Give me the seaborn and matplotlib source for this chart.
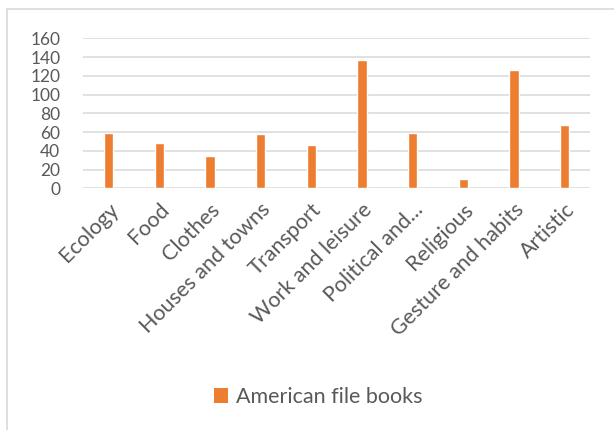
import matplotlib
matplotlib.use("Agg")
import matplotlib.pyplot as plt
import seaborn as sns
import pandas as pd
from matplotlib.patches import Rectangle, Patch

categories = ["Ecology", "Food", "Clothes", "Houses and towns", "Transport",
              "Work and leisure", "Political and...", "Religious",
              "Gesture and habits", "Artistic"]
values = [59, 48, 34, 58, 46, 137, 59, 10, 126, 67]
yticks = [0, 20, 40, 60, 80, 100, 120, 140, 160]
series_name = "American file books"

sns.set_theme(style="white")
plt.rcParams["font.family"] = ["Lato", "DejaVu Sans"]

W, H = 614, 430
fig = plt.figure(figsize=(W / 100, H / 100), dpi=100)

# chart frame
frame = Rectangle((7 / W, -0.05), 1.1, 1 - 9 / H + 0.05, transform=fig.transFigure,
                  fill=False, edgecolor="#D9D9D9", linewidth=1.2, zorder=0)
fig.patches.append(frame)

ax = fig.add_axes([83.3 / W, 1 - 188.3 / H, (590 - 83.3) / W, (188.3 - 38.3) / H])
df = pd.DataFrame({"category": categories, "value": values})
bar_color = "#ED7D31"
sns.barplot(data=df, x="category", y="value", color=bar_color, width=0.18,
            saturation=1, ax=ax, zorder=3)

ax.set_ylim(0, 160)
ax.set_xlim(-0.5, len(categories) - 0.5)
ax.set_yticks(yticks)
ax.set_yticklabels([str(v) for v in yticks])
ax.yaxis.grid(True, color="#D9D9D9", linewidth=1.1, zorder=0)
ax.set_axisbelow(True)
for s in ax.spines.values():
    s.set_visible(False)
ax.set_xlabel("")
ax.set_ylabel("")
ax.tick_params(axis="y", length=0, pad=16.5, labelsize=12.5, labelcolor="#595959")
ax.tick_params(axis="x", length=0, pad=8, labelsize=15.5, labelcolor="#595959")
plt.setp(ax.get_xticklabels(), rotation=45, ha="right", rotation_mode="anchor")

handle = Patch(facecolor=bar_color, edgecolor="none")
fig.legend([handle], [series_name], loc="center", bbox_to_anchor=(318 / W, 1 - 397 / H),
           frameon=False, fontsize=15.5, handlelength=0.65, handleheight=0.65,
           handletextpad=0.35, labelcolor="#595959")

fig.savefig("out.png", dpi=100)
